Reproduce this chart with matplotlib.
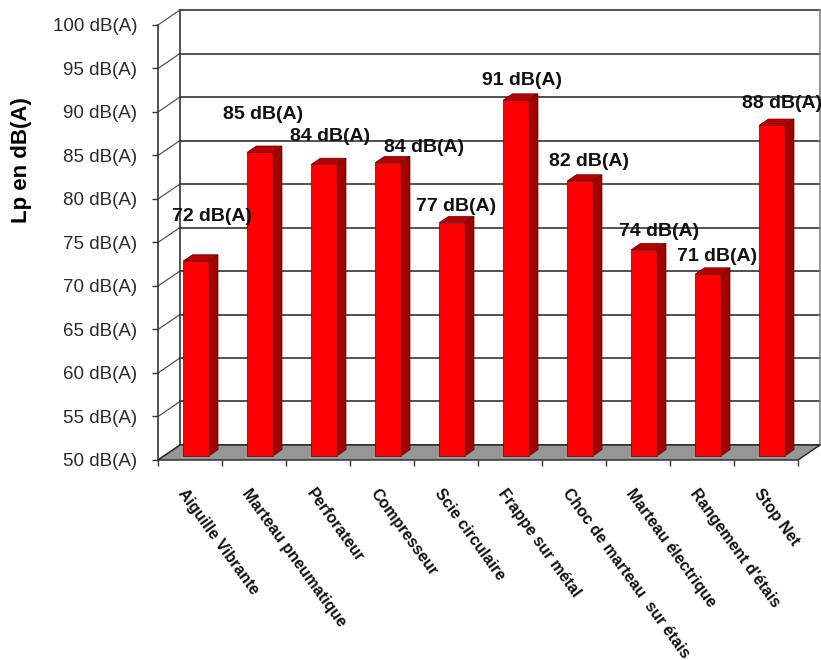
import matplotlib
matplotlib.use("Agg")
import matplotlib.pyplot as plt
from matplotlib.patches import Polygon

plt.rcParams['font.family'] = ['Liberation Sans', 'DejaVu Sans']

# data
categories = ['Aiguille Vibrante', 'Marteau pneumatique', 'Perforateur', 'Compresseur',
              'Scie circulaire', 'Frappe sur métal', 'Choc de marteau  sur étais',
              'Marteau électrique', "Rangement d'étais", 'Stop Net']
levels = [72.4, 84.9, 83.5, 83.7, 76.8, 90.9, 81.6, 73.7, 70.9, 88.0]
yticks = list(range(50, 101, 5))

# label placement tweaks (pixels: right, up from bar top)
label_dx = [16, 3, 6, 36, 4, 6, 9, 15, 9, 10]
label_dy = [45, 38, 28, 15, 16, 20, 20, 18, 18, 22]

W, H = 821, 660
fig = plt.figure(figsize=(W / 100, H / 100), dpi=100)
ax = fig.add_axes([158 / W, 1 - 460 / H, 640 / W, 435 / H])
n = len(categories)
ax.set_xlim(0, n)
ax.set_ylim(50, 100)
for s in ax.spines.values():
    s.set_visible(False)

px_x = n / 640.0          # data units per pixel
px_y = 50 / 435.0
dxd, dyd = 22 * px_x, 15 * px_y      # wall depth
f0 = 0.27                            # bar front position in depth
bdx, bdy = 0.42 * dxd, 0.42 * dyd    # bar depth
grid_c = '#333333'

# back wall + left wall lines
for v in yticks:
    ax.plot([dxd, n + dxd], [v + dyd, v + dyd], color=grid_c, lw=1.2, zorder=1, clip_on=False)
    ax.plot([0, dxd], [v, v + dyd], color='#555555', lw=0.9, zorder=1, clip_on=False)
ax.plot([0, 0], [50, 100], color=grid_c, lw=1.2, zorder=1, clip_on=False)
ax.plot([dxd, dxd], [50 + dyd, 100 + dyd], color=grid_c, lw=1.2, zorder=1, clip_on=False)
ax.plot([n + dxd, n + dxd], [50 + dyd, 100 + dyd], color='#888888', lw=1.2, zorder=1, clip_on=False)

# floor
floor = Polygon([(0, 50), (n, 50), (n + dxd, 50 + dyd), (dxd, 50 + dyd)],
                closed=True, facecolor='#969696', edgecolor='#222222', lw=1.0,
                zorder=2, clip_on=False)
ax.add_patch(floor)

# bars
bw = 0.40
base = 50 + f0 * dyd
for i, v in enumerate(levels):
    xl = i + 0.5 - bw / 2 + f0 * dxd
    xr = xl + bw
    top = v + f0 * dyd
    side = Polygon([(xr, base), (xr + bdx, base + bdy), (xr + bdx, top + bdy), (xr, top)],
                   facecolor='#a00000', edgecolor='#5a0000', lw=0.5, zorder=3, clip_on=False)
    cap = Polygon([(xl, top), (xr, top), (xr + bdx, top + bdy), (xl + bdx, top + bdy)],
                  facecolor='#b80000', edgecolor='#5a0000', lw=0.5, zorder=3, clip_on=False)
    front = Polygon([(xl, base), (xr, base), (xr, top), (xl, top)],
                    facecolor='#ff0000', edgecolor='#6a0000', lw=0.5, zorder=3, clip_on=False)
    for p in (side, cap, front):
        ax.add_patch(p)
    ax.annotate(f"{round(v)} dB(A)", xy=((xl + xr) / 2, top),
                xytext=(label_dx[i] * 0.72, label_dy[i] * 0.72), textcoords='offset points',
                ha='center', va='center', fontsize=14, fontweight='bold', color='#111111',
                zorder=6, annotation_clip=False)

# axes ticks
ax.set_yticks(yticks)
ax.set_yticklabels([f"{v} dB(A)" for v in yticks], fontsize=13.5, color='#2a2a2a')
ax.tick_params(axis='y', direction='out', length=4, width=1.0, color=grid_c, pad=11)
ax.set_xticks(range(n + 1))
ax.set_xticklabels([])
ax.tick_params(axis='x', direction='out', length=4, width=1.0, color=grid_c)

for i, name in enumerate(categories):
    ax.annotate(name, xy=(i + 0.5, 50), xytext=(-2, -19), textcoords='offset points',
                rotation=-54, rotation_mode='anchor', ha='left', va='top',
                fontsize=11.5, fontweight='bold', color='#111111', annotation_clip=False)

fig.text(22 / W, 1 - 160 / H, 'Lp en dB(A)', rotation=90, ha='center', va='center',
         fontsize=16, fontweight='bold')

fig.savefig('out.png', dpi=100)
